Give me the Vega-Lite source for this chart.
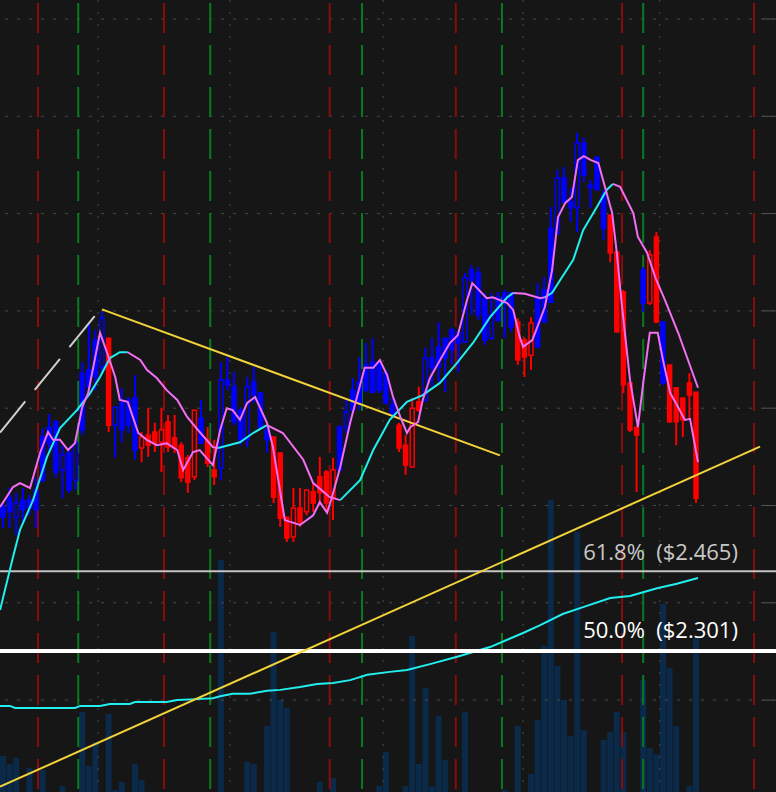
{
"$schema":"https://vega.github.io/schema/vega-lite/v6.json",
"width":776,"height":792,
"autosize":{"type":"none"},
"padding":0,
"background":"#161616",
"config":{"view":{"stroke":null},"scale":{"continuousPadding":0}},
"datasets":{
"candles":[
{"i":0,"o":2.576,"h":2.605,"l":2.554,"c":2.597,"s":"u"},
{"i":1,"o":2.587,"h":2.636,"l":2.554,"c":2.615,"s":"u"},
{"i":2,"o":2.576,"h":2.626,"l":2.539,"c":2.605,"s":"uH"},
{"i":3,"o":2.591,"h":2.636,"l":2.566,"c":2.611,"s":"u"},
{"i":4,"o":2.595,"h":2.622,"l":2.580,"c":2.611,"s":"u"},
{"i":5,"o":2.591,"h":2.657,"l":2.554,"c":2.632,"s":"u"},
{"i":6,"o":2.652,"h":2.759,"l":2.648,"c":2.741,"s":"u"},
{"i":7,"o":2.728,"h":2.788,"l":2.710,"c":2.761,"s":"u"},
{"i":8,"o":2.669,"h":2.776,"l":2.657,"c":2.772,"s":"u"},
{"i":9,"o":2.673,"h":2.724,"l":2.615,"c":2.704,"s":"uH"},
{"i":10,"o":2.632,"h":2.720,"l":2.626,"c":2.708,"s":"u"},
{"i":11,"o":2.652,"h":2.735,"l":2.632,"c":2.728,"s":"uH"},
{"i":12,"o":2.755,"h":2.895,"l":2.745,"c":2.872,"s":"u"},
{"i":13,"o":2.844,"h":2.975,"l":2.823,"c":2.879,"s":"u"},
{"i":14,"o":2.864,"h":2.961,"l":2.837,"c":2.940,"s":"u"},
{"i":15,"o":2.885,"h":2.998,"l":2.872,"c":2.985,"s":"uH"},
{"i":16,"o":2.944,"h":2.944,"l":2.751,"c":2.765,"s":"d"},
{"i":17,"o":2.765,"h":2.802,"l":2.698,"c":2.802,"s":"uH"},
{"i":18,"o":2.755,"h":2.842,"l":2.730,"c":2.811,"s":"u"},
{"i":19,"o":2.765,"h":2.823,"l":2.749,"c":2.817,"s":"u"},
{"i":20,"o":2.714,"h":2.868,"l":2.694,"c":2.821,"s":"u"},
{"i":21,"o":2.741,"h":2.751,"l":2.689,"c":2.718,"s":"dH"},
{"i":22,"o":2.745,"h":2.800,"l":2.700,"c":2.724,"s":"d"},
{"i":23,"o":2.751,"h":2.770,"l":2.710,"c":2.728,"s":"d"},
{"i":24,"o":2.755,"h":2.800,"l":2.669,"c":2.730,"s":"dH"},
{"i":25,"o":2.772,"h":2.786,"l":2.710,"c":2.720,"s":"d"},
{"i":26,"o":2.739,"h":2.786,"l":2.708,"c":2.718,"s":"d"},
{"i":27,"o":2.724,"h":2.730,"l":2.648,"c":2.657,"s":"d"},
{"i":28,"o":2.698,"h":2.704,"l":2.626,"c":2.648,"s":"d"},
{"i":29,"o":2.796,"h":2.796,"l":2.652,"c":2.659,"s":"dH"},
{"i":30,"o":2.728,"h":2.817,"l":2.728,"c":2.780,"s":"u"},
{"i":31,"o":2.735,"h":2.761,"l":2.679,"c":2.687,"s":"d"},
{"i":32,"o":2.673,"h":2.735,"l":2.642,"c":2.659,"s":"d"},
{"i":33,"o":2.677,"h":2.895,"l":2.652,"c":2.858,"s":"uH"},
{"i":34,"o":2.848,"h":2.905,"l":2.837,"c":2.858,"s":"u"},
{"i":35,"o":2.772,"h":2.874,"l":2.765,"c":2.844,"s":"u"},
{"i":36,"o":2.735,"h":2.802,"l":2.724,"c":2.796,"s":"u"},
{"i":37,"o":2.735,"h":2.864,"l":2.720,"c":2.844,"s":"uH"},
{"i":38,"o":2.827,"h":2.885,"l":2.811,"c":2.854,"s":"u"},
{"i":39,"o":2.761,"h":2.833,"l":2.759,"c":2.831,"s":"u"},
{"i":40,"o":2.735,"h":2.761,"l":2.708,"c":2.755,"s":"u"},
{"i":41,"o":2.741,"h":2.741,"l":2.605,"c":2.617,"s":"d"},
{"i":42,"o":2.708,"h":2.708,"l":2.556,"c":2.574,"s":"d"},
{"i":43,"o":2.576,"h":2.576,"l":2.525,"c":2.533,"s":"d"},
{"i":44,"o":2.595,"h":2.636,"l":2.525,"c":2.535,"s":"dH"},
{"i":45,"o":2.595,"h":2.636,"l":2.556,"c":2.566,"s":"d"},
{"i":46,"o":2.632,"h":2.632,"l":2.580,"c":2.587,"s":"dH"},
{"i":47,"o":2.628,"h":2.646,"l":2.587,"c":2.605,"s":"d"},
{"i":48,"o":2.659,"h":2.700,"l":2.601,"c":2.626,"s":"d"},
{"i":49,"o":2.669,"h":2.673,"l":2.587,"c":2.605,"s":"d"},
{"i":50,"o":2.673,"h":2.698,"l":2.570,"c":2.617,"s":"dH"},
{"i":51,"o":2.673,"h":2.765,"l":2.669,"c":2.761,"s":"u"},
{"i":52,"o":2.761,"h":2.817,"l":2.749,"c":2.792,"s":"uH"},
{"i":53,"o":2.796,"h":2.862,"l":2.790,"c":2.837,"s":"u"},
{"i":54,"o":2.811,"h":2.905,"l":2.796,"c":2.854,"s":"u"},
{"i":55,"o":2.837,"h":2.934,"l":2.833,"c":2.889,"s":"u"},
{"i":56,"o":2.833,"h":2.944,"l":2.831,"c":2.895,"s":"u"},
{"i":57,"o":2.837,"h":2.899,"l":2.831,"c":2.893,"s":"u"},
{"i":58,"o":2.811,"h":2.879,"l":2.807,"c":2.872,"s":"u"},
{"i":59,"o":2.790,"h":2.823,"l":2.786,"c":2.807,"s":"u"},
{"i":60,"o":2.765,"h":2.770,"l":2.710,"c":2.718,"s":"d"},
{"i":61,"o":2.724,"h":2.745,"l":2.663,"c":2.683,"s":"d"},
{"i":62,"o":2.800,"h":2.821,"l":2.679,"c":2.679,"s":"dH"},
{"i":63,"o":2.813,"h":2.844,"l":2.792,"c":2.796,"s":"d"},
{"i":64,"o":2.817,"h":2.924,"l":2.813,"c":2.903,"s":"uH"},
{"i":65,"o":2.883,"h":2.944,"l":2.844,"c":2.903,"s":"u"},
{"i":66,"o":2.885,"h":2.977,"l":2.854,"c":2.926,"s":"u"},
{"i":67,"o":2.903,"h":2.944,"l":2.833,"c":2.944,"s":"u"},
{"i":68,"o":2.920,"h":2.965,"l":2.889,"c":2.961,"s":"u"},
{"i":69,"o":2.934,"h":2.961,"l":2.874,"c":2.955,"s":"u"},
{"i":70,"o":2.936,"h":3.078,"l":2.934,"c":3.068,"s":"uH"},
{"i":71,"o":3.063,"h":3.094,"l":2.992,"c":3.084,"s":"u"},
{"i":72,"o":2.992,"h":3.090,"l":2.981,"c":3.078,"s":"u"},
{"i":73,"o":2.940,"h":3.037,"l":2.930,"c":3.026,"s":"u"},
{"i":74,"o":2.944,"h":3.037,"l":2.940,"c":2.992,"s":"uH"},
{"i":75,"o":2.981,"h":3.039,"l":2.977,"c":3.028,"s":"u"},
{"i":76,"o":3.016,"h":3.043,"l":2.944,"c":3.037,"s":"u"},
{"i":77,"o":2.967,"h":3.039,"l":2.957,"c":3.037,"s":"u"},
{"i":78,"o":2.977,"h":2.985,"l":2.889,"c":2.899,"s":"d"},
{"i":79,"o":2.940,"h":2.946,"l":2.864,"c":2.905,"s":"d"},
{"i":80,"o":2.975,"h":2.987,"l":2.879,"c":2.909,"s":"dH"},
{"i":81,"o":2.926,"h":3.057,"l":2.924,"c":3.028,"s":"u"},
{"i":82,"o":2.977,"h":3.070,"l":2.975,"c":3.043,"s":"u"},
{"i":83,"o":3.018,"h":3.214,"l":3.016,"c":3.170,"s":"u"},
{"i":84,"o":3.160,"h":3.290,"l":3.156,"c":3.273,"s":"uH"},
{"i":85,"o":3.224,"h":3.296,"l":3.222,"c":3.273,"s":"u"},
{"i":86,"o":3.212,"h":3.253,"l":3.183,"c":3.224,"s":"u"},
{"i":87,"o":3.212,"h":3.366,"l":3.162,"c":3.345,"s":"uH"},
{"i":88,"o":3.279,"h":3.357,"l":3.265,"c":3.345,"s":"u"},
{"i":89,"o":3.253,"h":3.269,"l":3.212,"c":3.259,"s":"u"},
{"i":90,"o":3.249,"h":3.316,"l":3.249,"c":3.316,"s":"u"},
{"i":91,"o":3.170,"h":3.249,"l":3.146,"c":3.238,"s":"u"},
{"i":92,"o":3.197,"h":3.197,"l":3.100,"c":3.119,"s":"d"},
{"i":93,"o":3.121,"h":3.121,"l":2.955,"c":2.957,"s":"d"},
{"i":94,"o":3.039,"h":3.043,"l":2.831,"c":2.848,"s":"d"},
{"i":95,"o":2.852,"h":2.852,"l":2.751,"c":2.755,"s":"d"},
{"i":96,"o":2.761,"h":2.761,"l":2.628,"c":2.745,"s":"d"},
{"i":97,"o":3.016,"h":3.090,"l":2.998,"c":3.084,"s":"u"},
{"i":98,"o":3.115,"h":3.125,"l":3.012,"c":3.016,"s":"dH"},
{"i":99,"o":3.152,"h":3.162,"l":2.975,"c":2.977,"s":"d"},
{"i":100,"o":2.852,"h":2.977,"l":2.848,"c":2.977,"s":"u"},
{"i":101,"o":2.889,"h":2.889,"l":2.770,"c":2.772,"s":"d"},
{"i":102,"o":2.842,"h":2.842,"l":2.724,"c":2.772,"s":"d"},
{"i":103,"o":2.821,"h":2.821,"l":2.741,"c":2.776,"s":"d"},
{"i":104,"o":2.852,"h":2.872,"l":2.780,"c":2.827,"s":"d"},
{"i":105,"o":2.833,"h":2.833,"l":2.605,"c":2.615,"s":"d"}
],
"volume":[
{"i":0,"v":3.6},{"i":1,"v":2.8},{"i":2,"v":3.4},{"i":4,"v":2.4},{"i":6,"v":2.2},{"i":9,"v":0.6},{"i":12,"v":8.0},{"i":13,"v":2.6},{"i":14,"v":5.0},{"i":16,"v":7.8},{"i":17,"v":0.2},{"i":18,"v":1.0},{"i":20,"v":2.8},{"i":21,"v":1.2},{"i":33,"v":23.2},{"i":37,"v":3.0},{"i":38,"v":2.8},{"i":40,"v":6.6},{"i":41,"v":16.0},{"i":42,"v":9.2},{"i":43,"v":8.4},{"i":48,"v":1.0},{"i":50,"v":1.4},{"i":57,"v":0.6},{"i":58,"v":4.0},{"i":61,"v":0.6},{"i":62,"v":15.6},{"i":63,"v":2.8},{"i":64,"v":10.4},{"i":65,"v":0.6},{"i":66,"v":7.6},{"i":67,"v":3.2},{"i":70,"v":8.0},{"i":76,"v":0.2},{"i":78,"v":6.6},{"i":80,"v":1.8},{"i":81,"v":7.2},{"i":82,"v":14.6},{"i":83,"v":29.2},{"i":84,"v":12.6},{"i":85,"v":9.2},{"i":86,"v":5.6},{"i":87,"v":26.0},{"i":88,"v":6.2},{"i":91,"v":5.2},{"i":92,"v":6.0},{"i":93,"v":8.0},{"i":94,"v":6.0},{"i":97,"v":11.2},{"i":98,"v":4.4},{"i":99,"v":3.8},{"i":100,"v":18.8},{"i":101,"v":12.4},{"i":102,"v":6.6},{"i":104,"v":0.6},{"i":105,"v":15.4}
],
"fast":[
{"i":-0.45,"p":2.597},{"i":1.52,"p":2.638},{"i":2.58,"p":2.646},{"i":4.09,"p":2.636},{"i":5.61,"p":2.708},{"i":6.82,"p":2.751},{"i":7.58,"p":2.735},{"i":8.64,"p":2.735},{"i":9.85,"p":2.714},{"i":10.9,"p":2.728},{"i":12.0,"p":2.802},{"i":12.9,"p":2.831},{"i":14.7,"p":2.955},{"i":15.8,"p":2.913},{"i":17.0,"p":2.864},{"i":17.7,"p":2.817},{"i":18.9,"p":2.813},{"i":20.5,"p":2.749},{"i":21.8,"p":2.735},{"i":23.3,"p":2.724},{"i":24.8,"p":2.728},{"i":26.4,"p":2.714},{"i":27.3,"p":2.673},{"i":28.8,"p":2.710},{"i":29.8,"p":2.714},{"i":31.8,"p":2.683},{"i":32.9,"p":2.755},{"i":33.9,"p":2.800},{"i":34.8,"p":2.796},{"i":35.9,"p":2.776},{"i":37.0,"p":2.811},{"i":38.2,"p":2.823},{"i":40.0,"p":2.770},{"i":40.9,"p":2.720},{"i":42.7,"p":2.570},{"i":45.0,"p":2.560},{"i":47.0,"p":2.580},{"i":48.0,"p":2.607},{"i":49.1,"p":2.585},{"i":49.8,"p":2.615},{"i":51.1,"p":2.679},{"i":52.6,"p":2.770},{"i":54.8,"p":2.883},{"i":56.1,"p":2.883},{"i":57.1,"p":2.899},{"i":58.2,"p":2.868},{"i":59.1,"p":2.823},{"i":60.2,"p":2.782},{"i":61.2,"p":2.749},{"i":61.7,"p":2.761},{"i":62.9,"p":2.772},{"i":63.6,"p":2.817},{"i":64.7,"p":2.862},{"i":65.8,"p":2.889},{"i":67.7,"p":2.934},{"i":68.9,"p":2.950},{"i":70.3,"p":3.022},{"i":71.1,"p":3.057},{"i":73.3,"p":3.026},{"i":74.2,"p":3.028},{"i":76.4,"p":3.016},{"i":77.3,"p":3.002},{"i":78.3,"p":2.946},{"i":78.8,"p":2.926},{"i":80.2,"p":2.940},{"i":82.1,"p":3.008},{"i":83.2,"p":3.084},{"i":84.1,"p":3.193},{"i":85.2,"p":3.222},{"i":86.2,"p":3.234},{"i":87.1,"p":3.310},{"i":88.0,"p":3.318},{"i":89.1,"p":3.310},{"i":90.2,"p":3.304},{"i":91.2,"p":3.255},{"i":92.3,"p":3.201},{"i":93.0,"p":3.119},{"i":93.8,"p":3.008},{"i":95.0,"p":2.858},{"i":96.2,"p":2.761},{"i":97.0,"p":2.852},{"i":98.0,"p":2.955},{"i":99.2,"p":2.955},{"i":100.0,"p":2.899},{"i":101.1,"p":2.831},{"i":102.3,"p":2.802},{"i":103.3,"p":2.776},{"i":104.1,"p":2.778},{"i":105.3,"p":2.689}
],
"slow":[
{"seg":1,"d":"up","i":-0.45,"p":2.385},{"seg":1,"d":"up","i":1.52,"p":2.494},{"seg":1,"d":"up","i":2.58,"p":2.550},{"seg":1,"d":"up","i":4.55,"p":2.611},{"seg":1,"d":"up","i":6.67,"p":2.700},{"seg":1,"d":"up","i":8.64,"p":2.759},{"seg":1,"d":"up","i":11.2,"p":2.796},{"seg":1,"d":"up","i":13.2,"p":2.831},{"seg":1,"d":"up","i":14.7,"p":2.864},{"seg":1,"d":"up","i":16.2,"p":2.903},{"seg":1,"d":"up","i":17.7,"p":2.915},{"seg":1,"d":"up","i":18.9,"p":2.915},
{"seg":2,"d":"dn","i":18.9,"p":2.915},{"seg":2,"d":"dn","i":20.8,"p":2.899},{"seg":2,"d":"dn","i":21.8,"p":2.879},{"seg":2,"d":"dn","i":23.3,"p":2.862},{"seg":2,"d":"dn","i":24.8,"p":2.837},{"seg":2,"d":"dn","i":26.4,"p":2.817},{"seg":2,"d":"dn","i":27.9,"p":2.782},{"seg":2,"d":"dn","i":29.8,"p":2.751},{"seg":2,"d":"dn","i":31.8,"p":2.720},{"seg":2,"d":"dn","i":32.6,"p":2.718},
{"seg":3,"d":"up","i":32.6,"p":2.718},{"seg":3,"d":"up","i":35.9,"p":2.730},{"seg":3,"d":"up","i":37.9,"p":2.749},{"seg":3,"d":"up","i":40.0,"p":2.765},
{"seg":4,"d":"dn","i":40.0,"p":2.765},{"seg":4,"d":"dn","i":42.4,"p":2.749},{"seg":4,"d":"dn","i":45.5,"p":2.694},{"seg":4,"d":"dn","i":47.0,"p":2.646},{"seg":4,"d":"dn","i":49.5,"p":2.617},{"seg":4,"d":"dn","i":51.1,"p":2.611},
{"seg":5,"d":"up","i":51.1,"p":2.611},{"seg":5,"d":"up","i":54.1,"p":2.652},{"seg":5,"d":"up","i":56.1,"p":2.714},{"seg":5,"d":"up","i":58.6,"p":2.776},{"seg":5,"d":"up","i":61.2,"p":2.813},{"seg":5,"d":"up","i":63.6,"p":2.827},{"seg":5,"d":"up","i":66.2,"p":2.852},{"seg":5,"d":"up","i":68.8,"p":2.893},{"seg":5,"d":"up","i":71.2,"p":2.934},{"seg":5,"d":"up","i":73.8,"p":2.987},{"seg":5,"d":"up","i":76.4,"p":3.028},{"seg":5,"d":"up","i":77.3,"p":3.037},
{"seg":6,"d":"dn","i":77.3,"p":3.037},{"seg":6,"d":"dn","i":79.1,"p":3.035},{"seg":6,"d":"dn","i":81.4,"p":3.026},{"seg":6,"d":"dn","i":82.1,"p":3.028},
{"seg":7,"d":"up","i":82.1,"p":3.028},{"seg":7,"d":"up","i":83.2,"p":3.037},{"seg":7,"d":"up","i":84.4,"p":3.063},{"seg":7,"d":"up","i":86.4,"p":3.105},{"seg":7,"d":"up","i":87.9,"p":3.166},{"seg":7,"d":"up","i":90.0,"p":3.214},{"seg":7,"d":"up","i":91.5,"p":3.249},{"seg":7,"d":"up","i":92.4,"p":3.261},
{"seg":8,"d":"dn","i":92.4,"p":3.261},{"seg":8,"d":"dn","i":93.5,"p":3.255},{"seg":8,"d":"dn","i":95.5,"p":3.201},{"seg":8,"d":"dn","i":96.2,"p":3.152},{"seg":8,"d":"dn","i":97.6,"p":3.119},{"seg":8,"d":"dn","i":98.8,"p":3.070},{"seg":8,"d":"dn","i":100.3,"p":3.022},{"seg":8,"d":"dn","i":102.3,"p":2.955},{"seg":8,"d":"dn","i":105.3,"p":2.842}
],
"longma":[
{"i":-0.45,"p":2.188},{"i":1.06,"p":2.188},{"i":1.82,"p":2.184},{"i":10.9,"p":2.184},{"i":11.7,"p":2.188},{"i":14.7,"p":2.188},{"i":16.2,"p":2.192},{"i":19.2,"p":2.192},{"i":20.0,"p":2.196},{"i":24.8,"p":2.196},{"i":26.4,"p":2.200},{"i":29.4,"p":2.202},{"i":31.8,"p":2.204},{"i":32.9,"p":2.208},{"i":34.8,"p":2.213},{"i":37.4,"p":2.213},{"i":40.0,"p":2.219},{"i":42.0,"p":2.221},{"i":45.0,"p":2.227},{"i":47.6,"p":2.233},{"i":50.0,"p":2.235},{"i":52.6,"p":2.241},{"i":55.2,"p":2.252},{"i":58.6,"p":2.258},{"i":61.2,"p":2.262},{"i":64.7,"p":2.274},{"i":68.8,"p":2.289},{"i":73.8,"p":2.309},{"i":76.4,"p":2.324},{"i":78.8,"p":2.338},{"i":81.4,"p":2.354},{"i":84.8,"p":2.377},{"i":87.9,"p":2.391},{"i":92.0,"p":2.410},{"i":95.0,"p":2.414},{"i":99.1,"p":2.430},{"i":102.1,"p":2.439},{"i":105.3,"p":2.451}
],
"trends":[
{"id":"a","i":15.0,"p":3.003},{"id":"a","i":75.3,"p":2.703},
{"id":"b","i":-0.45,"p":2.022},{"id":"b","i":114.7,"p":2.721}
],
"swing":[{"i":-0.45,"p":2.750},{"i":14.24,"p":2.995}],
"events":[
{"i":5.3,"t":"r"},{"i":24.4,"t":"r"},{"i":49.5,"t":"r"},{"i":68.6,"t":"r"},{"i":93.8,"t":"r"},{"i":113.8,"t":"r"},
{"i":11.4,"t":"g"},{"i":31.4,"t":"g"},{"i":54.4,"t":"g"},{"i":75.6,"t":"g"},{"i":97.0,"t":"g"}
],
"hgrid":[{"p":2.2},{"p":2.4},{"p":2.6},{"p":2.8},{"p":3.0},{"p":3.2},{"p":3.4},{"p":3.6}],
"vgrid":[{"i":14.4},{"i":34.4},{"i":57.6},{"i":78.8},{"i":99.5}],
"fib":[{"lvl":"61.8%\u00a0 ($2.465)","p":2.465,"lp":2.488,"k":"a"},{"lvl":"50.0%\u00a0 ($2.301)","p":2.301,"lp":2.328,"k":"b"}]
},
"layer":[
{
"data":{"name":"volume"},
"mark":{"type":"bar","size":6,"fill":"#0b2a4a"},
"encoding":{
"x":{"field":"i","type":"quantitative","scale":{"domain":[-0.4545,117.121],"nice":false,"zero":false,"padding":0},"axis":null},
"y":{"field":"v","type":"quantitative","scale":{"domain":[0,79.2],"nice":false,"zero":true},"axis":null}
}
},
{
"resolve":{"scale":{"stroke":"independent","fill":"independent","color":"independent"}},
"layer":[
{"data":{"name":"hgrid"},"mark":{"type":"rule","stroke":"#4a4a4a","strokeWidth":1,"strokeDash":[3,9]},
"encoding":{"y":{"field":"p","type":"quantitative","scale":{"domain":[2.0111,3.639],"nice":false,"zero":false},"axis":null}}},
{"data":{"name":"vgrid"},"mark":{"type":"rule","stroke":"#4a4a4a","strokeWidth":1,"strokeDash":[2,10]},
"encoding":{"x":{"field":"i","type":"quantitative","scale":{"domain":[-0.4545,117.121],"nice":false,"zero":false,"padding":0},"axis":null}}},
{"data":{"name":"events"},"mark":{"type":"rule","strokeWidth":2,"strokeDash":[30,12],"strokeDashOffset":39},
"encoding":{"x":{"field":"i","type":"quantitative","scale":{"domain":[-0.4545,117.121],"nice":false,"zero":false,"padding":0},"axis":null},
"stroke":{"field":"t","type":"nominal","scale":{"domain":["r","g"],"range":["#8a0b0b","#0a7a1e"]},"legend":null}}},
{"data":{"name":"longma"},"mark":{"type":"line","stroke":"#22eeee","strokeWidth":2,"clip":true},
"encoding":{"x":{"field":"i","type":"quantitative","scale":{"domain":[-0.4545,117.121],"nice":false,"zero":false,"padding":0},"axis":null},
"y":{"field":"p","type":"quantitative","scale":{"domain":[2.0111,3.639],"nice":false,"zero":false},"axis":null}}},
{"data":{"name":"fib"},"mark":{"type":"rule"},
"encoding":{"y":{"field":"p","type":"quantitative","scale":{"domain":[2.0111,3.639],"nice":false,"zero":false},"axis":null},
"stroke":{"field":"k","type":"nominal","scale":{"domain":["a","b"],"range":["#c4c4c4","#ffffff"]},"legend":null},
"strokeWidth":{"field":"k","type":"nominal","scale":{"domain":["a","b"],"range":[2,4]},"legend":null}}},
{"data":{"name":"candles"},"mark":{"type":"rule","strokeWidth":2},
"encoding":{"x":{"field":"i","type":"quantitative","scale":{"domain":[-0.4545,117.121],"nice":false,"zero":false,"padding":0},"axis":null},
"y":{"field":"l","type":"quantitative","scale":{"domain":[2.0111,3.639],"nice":false,"zero":false},"axis":null},
"y2":{"field":"h"},
"stroke":{"field":"s","type":"nominal","scale":{"domain":["u","d","uH","dH"],"range":["#0000ff","#ff0000","#0000ff","#ff0000"]},"legend":null}}},
{"data":{"name":"candles"},"mark":{"type":"bar","size":4,"strokeWidth":1.5},
"encoding":{"x":{"field":"i","type":"quantitative","scale":{"domain":[-0.4545,117.121],"nice":false,"zero":false,"padding":0},"axis":null},
"y":{"field":"o","type":"quantitative","scale":{"domain":[2.0111,3.639],"nice":false,"zero":false},"axis":null},
"y2":{"field":"c"},
"fill":{"field":"s","type":"nominal","scale":{"domain":["u","d","uH","dH"],"range":["#0000ff","#ff0000","#161616","#161616"]},"legend":null},
"stroke":{"field":"s","type":"nominal","scale":{"domain":["u","d","uH","dH"],"range":["#0000ff","#ff0000","#0000ff","#ff0000"]},"legend":null}}},
{"data":{"name":"trends"},"mark":{"type":"line","stroke":"#f2d33a","strokeWidth":2,"clip":true},
"encoding":{"x":{"field":"i","type":"quantitative","scale":{"domain":[-0.4545,117.121],"nice":false,"zero":false,"padding":0},"axis":null},
"y":{"field":"p","type":"quantitative","scale":{"domain":[2.0111,3.639],"nice":false,"zero":false},"axis":null},
"detail":{"field":"id","type":"nominal"}}},
{"data":{"name":"swing"},"mark":{"type":"line","stroke":"#cfcfcf","strokeWidth":2,"strokeDash":[40,15],"clip":true},
"encoding":{"x":{"field":"i","type":"quantitative","scale":{"domain":[-0.4545,117.121],"nice":false,"zero":false,"padding":0},"axis":null},
"y":{"field":"p","type":"quantitative","scale":{"domain":[2.0111,3.639],"nice":false,"zero":false},"axis":null}}},
{"data":{"name":"slow"},"mark":{"type":"line","strokeWidth":2,"clip":true},
"encoding":{"x":{"field":"i","type":"quantitative","scale":{"domain":[-0.4545,117.121],"nice":false,"zero":false,"padding":0},"axis":null},
"y":{"field":"p","type":"quantitative","scale":{"domain":[2.0111,3.639],"nice":false,"zero":false},"axis":null},
"detail":{"field":"seg","type":"nominal"},
"stroke":{"field":"d","type":"nominal","scale":{"domain":["up","dn"],"range":["#22eeee","#f46ef4"]},"legend":null}}},
{"data":{"name":"fast"},"mark":{"type":"line","stroke":"#f46ef4","strokeWidth":2,"clip":true},
"encoding":{"x":{"field":"i","type":"quantitative","scale":{"domain":[-0.4545,117.121],"nice":false,"zero":false,"padding":0},"axis":null},
"y":{"field":"p","type":"quantitative","scale":{"domain":[2.0111,3.639],"nice":false,"zero":false},"axis":null}}},
{"data":{"name":"fib"},"mark":{"type":"text","font":"Open Sans","fontSize":22,"align":"left","baseline":"alphabetic"},
"encoding":{"x":{"datum":87.9,"type":"quantitative","scale":{"domain":[-0.4545,117.121],"nice":false,"zero":false,"padding":0},"axis":null},
"y":{"field":"lp","type":"quantitative","scale":{"domain":[2.0111,3.639],"nice":false,"zero":false},"axis":null},
"text":{"field":"lvl"},
"fill":{"field":"k","type":"nominal","scale":{"domain":["a","b"],"range":["#c8c8c8","#ffffff"]},"legend":null}}},
{"mark":{"type":"rect","fill":"#f4f4f4","cornerRadius":6},
"encoding":{"x":{"datum":85.6,"type":"quantitative","scale":{"domain":[-0.4545,117.121],"nice":false,"zero":false,"padding":0},"axis":null},
"x2":{"datum":103.2},
"y":{"datum":3.468,"type":"quantitative","scale":{"domain":[2.0111,3.639],"nice":false,"zero":false},"axis":null},
"y2":{"datum":3.3965}}},
{"mark":{"type":"point","filled":true,"fill":"#f4f4f4","opacity":1,"size":324,"shape":"M -0.11 -1.2 L 0.9 -1.2 L -0.67 0.9 Z"},
"encoding":{"x":{"datum":88.0,"type":"quantitative","scale":{"domain":[-0.4545,117.121],"nice":false,"zero":false,"padding":0},"axis":null},
"y":{"datum":3.382,"type":"quantitative","scale":{"domain":[2.0111,3.639],"nice":false,"zero":false},"axis":null}}},
{"mark":{"type":"text","text":"Hi: 3.366","font":"Open Sans","fontSize":22,"fill":"#111111","align":"center","baseline":"middle"},
"encoding":{"x":{"datum":94.4,"type":"quantitative","scale":{"domain":[-0.4545,117.121],"nice":false,"zero":false,"padding":0},"axis":null},
"y":{"datum":3.433,"type":"quantitative","scale":{"domain":[2.0111,3.639],"nice":false,"zero":false},"axis":null}}},
{"mark":{"type":"rule","stroke":"#555555","strokeWidth":2},
"encoding":{"x":{"datum":116.82,"type":"quantitative","scale":{"domain":[-0.4545,117.121],"nice":false,"zero":false,"padding":0},"axis":null}}},
{"data":{"name":"hgrid"},"mark":{"type":"rule","stroke":"#555555","strokeWidth":1},
"encoding":{"x":{"datum":115.14,"type":"quantitative","scale":{"domain":[-0.4545,117.121],"nice":false,"zero":false,"padding":0},"axis":null},
"x2":{"datum":116.82},
"y":{"field":"p","type":"quantitative","scale":{"domain":[2.0111,3.639],"nice":false,"zero":false},"axis":null}}},
{"mark":{"type":"point","filled":true,"fill":"#0a8a2a","opacity":1,"size":160,"clip":true},
"encoding":{"x":{"datum":13.5,"type":"quantitative","scale":{"domain":[-0.4545,117.121],"nice":false,"zero":false,"padding":0},"axis":null},
"y":{"datum":3.645,"type":"quantitative","scale":{"domain":[2.0111,3.639],"nice":false,"zero":false},"axis":null}}}
]
}
],
"resolve":{"scale":{"y":"independent"}}
}
